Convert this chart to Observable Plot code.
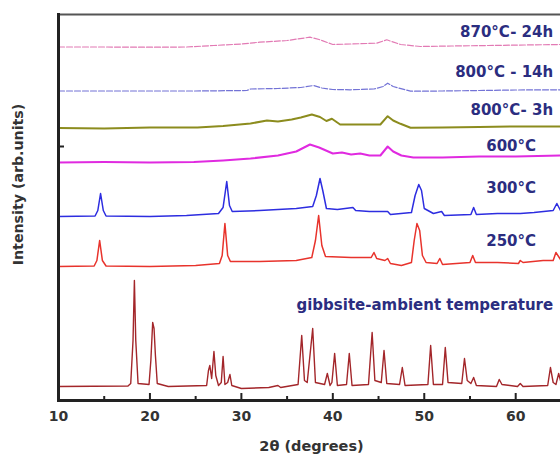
<!DOCTYPE html>
<html><head><meta charset="utf-8">
<script src="https://cdn.jsdelivr.net/npm/d3@7"></script>
<script src="https://cdn.jsdelivr.net/npm/@observablehq/plot@0.6"></script>
<style>html,body{margin:0;padding:0;background:#fff}</style>
</head><body><div id="chart"></div>
<script>
// 2θ (degrees), intensity (arb. units, vertically offset stacks)
const gibbsite = [[10,14],[17.6,14.5],[17.9,17],[18.15,60],[18.3,120],[18.45,60],[18.7,17],[19.9,16],[20.1,40],[20.3,78],[20.45,72],[20.6,45],[20.8,17],[22,14],[26.2,15],[26.4,30],[26.55,35],[26.75,22],[27.0,49],[27.2,25],[27.5,15],[27.8,18],[28.0,44],[28.2,16],[28.5,18],[28.75,26],[28.95,15],[30,12],[33,13],[34,15],[34.3,13],[36.2,16],[36.6,65],[36.9,20],[37.2,18],[37.8,72],[38.1,18],[39.1,16],[39.4,27],[39.7,15],[39.9,18],[40.2,47],[40.5,15],[41.5,16],[41.8,47],[42.1,15],[43.9,16],[44.3,68],[44.6,20],[45.3,18],[45.6,50],[45.9,17],[47.3,16],[47.6,33],[47.9,15],[50.4,16],[50.7,55],[51.0,16],[52.0,16],[52.3,53],[52.6,18],[54.1,17],[54.4,42],[54.7,20],[55.1,17],[55.4,23],[55.7,15],[57.9,14],[58.2,21],[58.5,16],[60.2,14],[60.5,17],[60.8,14],[63.5,15],[63.8,33],[64.1,18],[64.4,16],[64.7,27],[64.9,20]];
const t250 = [[10,134],[13.9,134.5],[14.2,140],[14.5,160],[14.8,140],[15.2,134.5],[20,134],[25,135],[27.6,137],[27.9,145],[28.2,177],[28.5,145],[28.8,139],[32,139],[36,140],[37.7,143],[38.1,160],[38.45,185],[38.8,155],[39.2,144],[42,143],[44.2,143],[44.5,148],[44.8,142],[45.7,140],[46.0,142],[46.3,137],[47.5,135],[48.6,138],[48.9,160],[49.2,177],[49.5,170],[49.8,145],[50.2,138],[51.4,137],[51.7,142],[52,136],[55,138],[55.3,145],[55.6,138],[58,138],[60.3,137],[60.5,140],[60.8,138],[63,140],[64.1,140],[64.4,148],[64.9,141]];
const t300 = [[10,184],[14.0,184.5],[14.3,190],[14.6,207],[14.9,190],[15.2,184.5],[20,184],[24,185],[27.5,187],[28.0,193],[28.4,219],[28.7,195],[29.0,189],[32,190],[36,192],[37.8,194],[38.2,205],[38.6,222],[38.9,210],[39.3,192],[40.5,191],[42.2,193],[42.5,190],[44,189],[46.0,189],[46.3,186],[48.6,188],[49.0,205],[49.4,216],[49.7,210],[50.0,192],[51.0,187],[51.9,189],[52.2,185],[55.1,186],[55.4,193],[55.7,186],[58,187],[60.5,187],[62,188],[64.1,190],[64.5,197],[64.9,190]];
const t600 = [[10,238],[15,238.5],[20,238],[24.8,238.5],[28,240],[31,242],[34,245],[36,249],[37.5,256],[38.5,253],[40,247],[41,248],[42,246],[43,247],[44,245],[45.2,245],[46.0,254],[46.6,249],[47.5,245],[48.8,243],[52,243],[56,244],[60,244],[64.9,245]];
const t800_3h = [[10,272.5],[15,272],[20,273],[25.2,273],[28,274.5],[31,277],[32.8,280],[34,279],[35.5,281],[36.5,283],[37.7,286],[38.6,283.5],[39.3,279.5],[39.9,281.7],[40.8,276],[43,276],[45.2,276],[46.0,284.3],[46.6,280],[47.4,276.7],[48.5,272.7],[52,273],[56,273.5],[60,274],[64.9,274]];
const t800_14h = [[10,309.5],[15,309.5],[20,309.5],[25,309.5],[30.6,310],[31,311.5],[34,312],[36.5,313],[37.9,315],[38.8,312.5],[40,311],[41.9,310.7],[44.5,311.5],[45.5,314],[46.0,317.3],[46.6,314],[48.5,309.3],[52,309.5],[56,310],[60,310.5],[64.9,310.7]];
const t870_24h = [[10,353.5],[15,353.5],[20,353.3],[24,353.5],[27,355],[30,356.5],[32,358.3],[35,360],[37.5,363.3],[38.5,361],[40,356],[42,356.5],[44.8,357.3],[45.9,360.7],[47.4,356],[49.6,354],[53,354.5],[57,355],[61,355.5],[64.9,356]];

const seriesData = [gibbsite, t250, t300, t600, t800_3h, t800_14h, t870_24h];
const seriesColors = ["#a3262a", "#e8332c", "#2d2de0", "#e02ae0", "#8c8c1e", "#7373d6", "#e27ab4"];
const seriesWidths = [1.4, 1.5, 1.5, 2, 2, 1.2, 1.2];
const seriesDash = [null, null, null, null, null, "6,2", "6,2"];

const labelTexts = ["gibbsite-ambient temperature", "250°C", "300°C", "600°C", "800°C- 3h", "800°C - 14h", "870°C- 24h"];
const labelTheta = [64.1, 59.5, 59.5, 59.5, 64.1, 64.1, 64.1];
const labelIntensity = [95, 159, 212, 254, 290, 328, 368];
const labelEnd = [true, false, false, false, true, true, true];

const xTicks = [10, 20, 30, 40, 50, 60];
const xMinorTicks = [15, 25, 35, 45, 55];
const yTicks = [254];

const labelRows = labelTexts.map((t, i) => ({text: t, theta: labelTheta[i], intensity: labelIntensity[i], end: labelEnd[i]}));

const lineMarks = seriesData.map((s, i) => Plot.line(s.map(([theta, intensity]) => ({theta, intensity})), {
  x: "theta", y: "intensity", stroke: seriesColors[i], strokeWidth: seriesWidths[i],
  strokeDasharray: seriesDash[i], strokeLinejoin: "round"
}));

const font = "'DejaVu Sans', sans-serif";
const labelColor = "#2b2d80";
const chart = Plot.plot({
  width: 560, height: 458,
  marginLeft: 58, marginRight: 0, marginTop: 14, marginBottom: 58,
  x: {domain: [10, 64.9], axis: null},
  y: {domain: [0, 386], axis: null},
  style: {fontFamily: font, fontWeight: "bold", fontSize: "14px", color: "#333", background: "#fff"},
  marks: [
    ...lineMarks,
    Plot.frame({anchor: "top", stroke: "#555", strokeWidth: 2}),
    Plot.frame({anchor: "left", stroke: "#222", strokeWidth: 3}),
    Plot.frame({anchor: "bottom", stroke: "#222", strokeWidth: 3}),
    Plot.tickX(xTicks, {x: d => d, insetTop: 379, stroke: "#222", strokeWidth: 2}),
    Plot.tickX(xMinorTicks, {x: d => d, insetTop: 382, stroke: "#222", strokeWidth: 2}),
    Plot.tickY(yTicks, {y: d => d, insetRight: 496, stroke: "#222", strokeWidth: 2}),
    Plot.axisX(xTicks, {tickSize: 0, tickPadding: 11, fill: "#333", fontSize: 14, label: null}),
    Plot.text(["2θ (degrees)"], {frameAnchor: "bottom", textAnchor: "middle", dy: 50, dx: 2, fill: "#333", fontSize: 14.5, fontWeight: "bold"}),
    Plot.text(["Intensity (arb.units)"], {frameAnchor: "left", textAnchor: "middle", rotate: -90, dx: -40, dy: -23, fill: "#333", fontSize: 14.2, fontWeight: "bold"}),
    Plot.text(labelRows.filter(d => d.end), {x: "theta", y: "intensity", text: "text", textAnchor: "end", fill: labelColor, fontSize: 15, fontWeight: "bold"}),
    Plot.text(labelRows.filter(d => !d.end), {x: "theta", y: "intensity", text: "text", textAnchor: "middle", fill: labelColor, fontSize: 15, fontWeight: "bold"})
  ]
});
document.getElementById("chart").append(chart);
</script>
</body></html>
